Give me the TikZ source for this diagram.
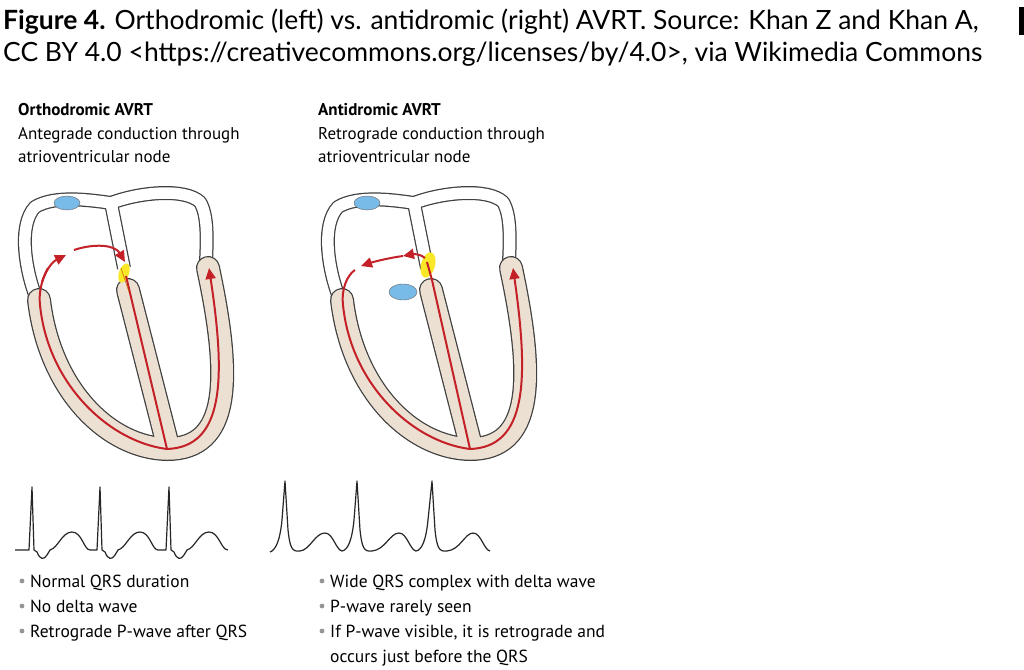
\documentclass[tikz,border=0pt]{standalone}
\usepackage{fontspec}
\setmainfont{Lato}
\newfontfamily\cond{PT Sans}
\usetikzlibrary{arrows.meta}
\definecolor{beige}{RGB}{236,224,210}
\definecolor{rd}{RGB}{196,32,40}
\definecolor{blu}{RGB}{120,186,232}
\definecolor{yel}{RGB}{250,232,40}
\definecolor{gr}{RGB}{150,150,150}
\tikzset{
  atrout/.style={line width=14pt,draw=black!75,line join=round},
  atrin/.style={line width=11.5pt,draw=white,line join=round},
  ventout/.style={line width=24pt,draw=black!75,line cap=round,line join=round},
  ventin/.style={line width=21.5pt,draw=beige,line cap=round,line join=round},
  redl/.style={draw=rd,line width=2pt},
  tip/.style={-{Triangle[length=11pt,width=10pt]}},
  ecg/.style={draw=black!85,line width=1.2pt,line join=round},
  head/.style={font=\cond\bfseries\fontsize{17}{20}\selectfont,anchor=base west,inner sep=0},
  txt/.style={font=\cond\fontsize{17}{20}\selectfont,anchor=base west,inner sep=0},
  bul/.style={font=\cond\fontsize{17.5}{20}\selectfont,anchor=base west,inner sep=0},
}
\newcommand{\heartshape}{%
  \draw[atrout] (37,300) .. controls (25,270) and (18,225) .. (35,207) .. controls (55,195) and (90,200) .. (111,203) -- (124,268);
  \draw[atrout] (111,203) .. controls (140,192) and (185,188) .. (200,202) .. controls (208,215) and (207,240) .. (206,262);
  \draw[atrin] (37,300) .. controls (25,270) and (18,225) .. (35,207) .. controls (55,195) and (90,200) .. (111,203) -- (124,268);
  \draw[atrin] (111,203) .. controls (140,192) and (185,188) .. (200,202) .. controls (208,215) and (207,240) .. (206,262);
  \draw[ventout] (39,300) .. controls (50,392) and (110,448) .. (167,449) .. controls (230,449) and (232,380) .. (208,268);
  \draw[ventout] (128,290) -- (167,442);
  \draw[ventin] (39,300) .. controls (50,392) and (110,448) .. (167,449) .. controls (230,449) and (232,380) .. (208,268);
  \draw[ventin] (128,290) -- (167,442);
}
\begin{document}
\begin{tikzpicture}[x=1pt,y=-1pt]
\useasboundingbox (0,0) rectangle (1024,669);
\fill[white] (0,0) rectangle (1024,669);
% title
\node[anchor=base west,inner sep=0,font=\fontsize{26.5}{30}\selectfont] (t1) at (3,30) {\textbf{Figure 4.} Orthodromic (left) vs. antidromic (right) AVRT. Source: Khan Z and Khan A,};
\node[anchor=base west,inner sep=0,font=\fontsize{26.5}{30}\selectfont] (t2) at (3,61) {CC BY 4.0 <https://creativecommons.org/licenses/by/4.0>, via Wikimedia Commons};
\fill[black] (1019,7) rectangle (1024,35);
% headings
\node[head] (h1) at (18,115) {Orthodromic AVRT};
\node[txt] (s1a) at (18,139) {Antegrade conduction through};
\node[txt] (s1b) at (18,162) {atrioventricular node};
\node[head] (h2) at (318,115) {Antidromic AVRT};
\node[txt] (s2a) at (318,139) {Retrograde conduction through};
\node[txt] (s2b) at (318,162) {atrioventricular node};
% left heart
\heartshape
\fill[blu,draw=black!60,line width=0.4pt] (67,203) ellipse (13pt and 7pt);
\fill[yel,rotate around={-20:(124,273)}] (124,273) ellipse (5pt and 10pt);
\draw[redl] (126,276) -- (167,449);
\draw[redl] (167,449) .. controls (110,442) and (48,385) .. (40,305) .. controls (38,290) and (44,275) .. (48,268);
\draw[redl,tip] (42,282) .. controls (46,270) and (52,262) .. (66,255);
\draw[redl,tip] (74,250) .. controls (95,243) and (115,245) .. (125,262);
\draw[redl,tip] (167,449) .. controls (224,447) and (226,380) .. (209,268);
\draw[orange!80!black,line width=0.6pt] (121,268) -- (129,292);
% right heart
\begin{scope}[xshift=303pt]
\heartshape
\fill[blu,draw=black!60,line width=0.4pt] (64,203) ellipse (13pt and 7pt);
\fill[blu,draw=black!60,line width=0.4pt] (100,292) ellipse (14pt and 8pt);
\fill[yel,rotate around={-15:(125,265)}] (125,265) ellipse (7pt and 13pt);
\draw[redl] (124,262) -- (129,280) -- (167,449);
\draw[redl] (167,449) .. controls (110,442) and (48,385) .. (40,305) .. controls (38,290) and (44,275) .. (52,270);
\draw[redl,tip] (122,258) .. controls (118,254) and (110,254) .. (100,256);
\draw[redl,tip] (100,256) .. controls (85,258) and (70,262) .. (58,266);
\draw[redl,tip] (167,449) .. controls (224,447) and (226,380) .. (210,268);
\end{scope}
% ECG left
\draw[ecg] (15,550)
 -- (29,550) -- (32,487) -- (34,550) -- (37,552) .. controls (40,560) and (44,560) .. (47,555) -- (50,550) .. controls (58,548) and (62,532) .. (72,532) .. controls (82,532) and (84,550) .. (90,550)
 -- (97,550) -- (100,487) -- (102,550) -- (105,552) .. controls (108,560) and (112,560) .. (115,555) -- (118,550) .. controls (126,548) and (130,532) .. (140,532) .. controls (150,532) and (152,550) .. (158,550)
 -- (166,550) -- (169,487) -- (171,550) -- (174,552) .. controls (177,560) and (181,560) .. (184,555) -- (187,550) .. controls (195,548) and (199,532) .. (209,532) .. controls (219,532) and (221,550) .. (228,550);
% ECG right
\draw[ecg] (270,552)
 .. controls (276,550) and (280,540) .. (282,520) -- (285,481) -- (288,530) .. controls (290,548) and (292,552) .. (300,551)
 .. controls (310,550) and (315,533) .. (325,533) .. controls (333,533) and (336,550) .. (342,551)
 .. controls (348,550) and (352,540) .. (354,520) -- (357,481) -- (360,530) .. controls (362,548) and (364,552) .. (372,551)
 .. controls (385,550) and (390,533) .. (399,533) .. controls (407,533) and (410,550) .. (416,551)
 .. controls (422,550) and (426,540) .. (428,520) -- (432,481) -- (435,530) .. controls (437,548) and (439,552) .. (447,551)
 .. controls (460,550) and (465,533) .. (473,533) .. controls (481,533) and (484,550) .. (490,551);
% bullets
\foreach \y/\t [count=\i] in {587/Normal QRS duration,612/No delta wave,637/Retrograde P-wave after QRS}{
  \fill[gr] (22,\y-6) circle (2.4pt);
  \node[bul] (bl\i) at (30,\y) {\t};
}
\foreach \y/\t [count=\i] in {587/Wide QRS complex with delta wave,612/P-wave rarely seen,637/{If P-wave visible, it is retrograde and}}{
  \fill[gr] (322,\y-6) circle (2.4pt);
  \node[bul] (br\i) at (330,\y) {\t};
}
\node[bul] (br4) at (330,662) {occurs just before the QRS};
\end{tikzpicture}
\end{document}
